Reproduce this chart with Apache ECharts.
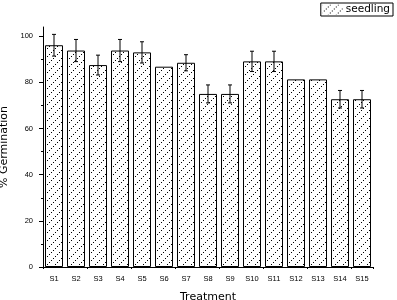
<!DOCTYPE html>
<html><head><meta charset="utf-8">
<script src="https://cdn.jsdelivr.net/npm/echarts@6/dist/echarts.min.js"></script>
<style>html,body{margin:0;padding:0;background:#fff}#c{width:397px;height:300px}</style>
</head><body><div id="c"></div>
<script>
const categories = ['S1','S2','S3','S4','S5','S6','S7','S8','S9','S10','S11','S12','S13','S14','S15'];
const germination = [96.1, 93.8, 87.5, 93.8, 93.0, 86.8, 88.5, 75.0, 75.0, 89.1, 89.1, 81.3, 81.3, 72.7, 72.7];
const errors = [4.7, 4.8, 4.3, 4.8, 4.6, 0, 3.5, 3.9, 3.9, 4.4, 4.4, 0, 0, 3.8, 3.8];
const yTickLabels = [0, 20, 40, 60, 80, 100];

const cv = document.createElement('canvas');
cv.width = 8; cv.height = 8;
const cx = cv.getContext('2d');
cx.fillStyle = '#fff'; cx.fillRect(0,0,8,8);
cx.fillStyle = '#000';
[[7,0],[5,2],[3,4],[1,6]].forEach(p => cx.fillRect(p[0], p[1], 1, 1));
const pattern = {image: cv, repeat: 'repeat'};

const errData = categories.map((c,i) => [i, germination[i]-errors[i], germination[i]+errors[i], errors[i]]);
const font = 'Liberation Sans';
const chart = echarts.init(document.getElementById('c'));
chart.setOption({
  animation: false,
  backgroundColor: '#fff',
  grid: {left: 43, right: 24, top: 27, bottom: 33, outerBoundsMode: 'none', containLabel: false},
  legend: {
    right: 4, top: 3, padding: [1, 3, 1, 2],
    borderColor: '#000', borderWidth: 1,
    itemWidth: 20, itemHeight: 10, itemGap: 3,
    icon: 'rect',
    itemStyle: {borderWidth: 0},
    textStyle: {fontFamily: 'DejaVu Sans', fontSize: 10.5, color: '#000', padding: [0,0,0,-2]},
    data: ['seedling']
  },
  xAxis: [{
    type: 'category', data: categories,
    name: 'Treatment', nameLocation: 'middle', nameGap: 25,
    nameTextStyle: {fontFamily: 'DejaVu Sans', fontSize: 11, color: '#000'},
    axisLine: {lineStyle: {color: '#000', width: 1}},
    axisTick: {alignWithLabel: true, length: 4, lineStyle: {color: '#000'}},
    axisLabel: {fontFamily: font, fontSize: 7.5, color: '#000', margin: 8, interval: 0}
  }, {
    type: 'category', data: categories, position: 'bottom',
    axisLine: {show: false},
    axisTick: {show: true, length: 2, lineStyle: {color: '#000'}},
    axisLabel: {show: false}
  }],
  yAxis: {
    type: 'value', min: 0, max: 104, interval: 20,
    name: '% Germination', nameLocation: 'middle', nameGap: 27,
    nameTextStyle: {fontFamily: 'DejaVu Sans', fontSize: 11, color: '#000'},
    axisLine: {show: true, lineStyle: {color: '#000', width: 1}},
    axisTick: {show: true, length: 4, lineStyle: {color: '#000'}, customValues: yTickLabels},
    minorTick: {show: true, splitNumber: 2, length: 2, lineStyle: {color: '#000'}},
    axisLabel: {fontFamily: font, fontSize: 7.5, color: '#000', margin: 10, customValues: yTickLabels},
    splitLine: {show: false}
  },
  series: [{
    name: 'seedling', type: 'bar', data: germination, barWidth: 18,
    itemStyle: {color: pattern, borderColor: '#000', borderWidth: 1}
  }, {
    type: 'custom', data: errData, z: 5,
    encode: {x: 0, y: [1, 2]},
    renderItem: function (params, api) {
      if (api.value(3) <= 0) return null;
      const lo = api.coord([api.value(0), api.value(1)]);
      const hi = api.coord([api.value(0), api.value(2)]);
      const w = 2;
      const st = {stroke: '#000', lineWidth: 1};
      return {type: 'group', children: [
        {type: 'line', shape: {x1: lo[0], y1: lo[1], x2: hi[0], y2: hi[1]}, style: st},
        {type: 'line', shape: {x1: hi[0]-w, y1: hi[1], x2: hi[0]+w, y2: hi[1]}, style: st},
        {type: 'line', shape: {x1: lo[0]-w, y1: lo[1], x2: lo[0]+w, y2: lo[1]}, style: st}
      ]};
    }
  }]
});
</script></body></html>
